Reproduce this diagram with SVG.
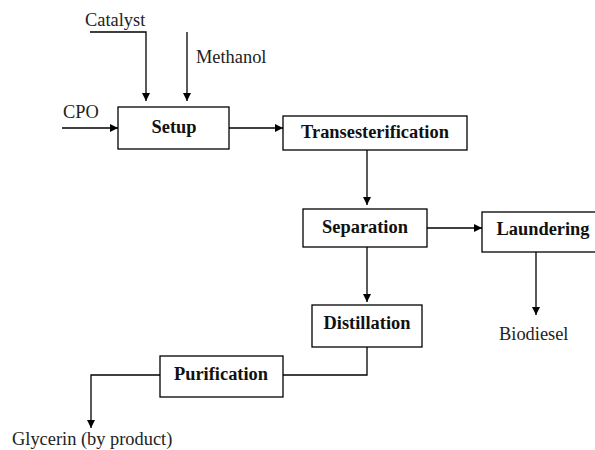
<svg xmlns="http://www.w3.org/2000/svg" width="595" height="450" viewBox="0 0 595 450">
<style>
.box{fill:#fff;stroke:#000;stroke-width:1.3}
.lbl{font-family:"Liberation Serif","Times New Roman",serif;font-size:18.4px;font-weight:bold;fill:#111;text-anchor:middle}
.txt{font-family:"Liberation Serif","Times New Roman",serif;font-size:18.4px;fill:#222}
.ln{fill:none;stroke:#000;stroke-width:1.3}
</style>
<defs>
<marker id="ah" viewBox="0 0 10 10" refX="10" refY="5" markerWidth="8" markerHeight="8" markerUnits="userSpaceOnUse" orient="auto">
<path d="M0,0 L10,5 L0,10 Z" fill="#000"/>
</marker>
</defs>
<rect width="595" height="450" fill="#fff"/>
<g id="connectors">
<polyline class="ln" points="90,32 146,32 146,101" marker-end="url(#ah)"/>
<line class="ln" x1="187" y1="32" x2="187" y2="101" marker-end="url(#ah)"/>
<line class="ln" x1="62" y1="128" x2="118" y2="128" marker-end="url(#ah)"/>
<line class="ln" x1="229" y1="128" x2="283" y2="128" marker-end="url(#ah)"/>
<line class="ln" x1="367" y1="150" x2="367" y2="205" marker-end="url(#ah)"/>
<line class="ln" x1="427" y1="228" x2="482" y2="228" marker-end="url(#ah)"/>
<line class="ln" x1="536" y1="247" x2="536" y2="315" marker-end="url(#ah)"/>
<line class="ln" x1="367" y1="247" x2="367" y2="302" marker-end="url(#ah)"/>
<polyline class="ln" points="367,347 367,375 283,375"/>
<polyline class="ln" points="160,375 91,375 91,428" marker-end="url(#ah)"/>
</g>
<g id="catalyst"><text class="txt" x="85" y="26">Catalyst</text></g>
<g id="methanol"><text class="txt" x="196" y="63">Methanol</text></g>
<g id="cpo"><text class="txt" x="63" y="118">CPO</text></g>
<g id="setup"><rect class="box" x="118" y="107" width="111" height="42"/><text class="lbl" x="174" y="133">Setup</text></g>
<g id="transesterification"><rect class="box" x="283" y="116" width="184" height="34"/><text class="lbl" x="375" y="138">Transesterification</text></g>
<g id="separation"><rect class="box" x="303" y="209" width="124" height="38"/><text class="lbl" x="365" y="233">Separation</text></g>
<g id="laundering"><rect class="box" x="482" y="212" width="130" height="40"/><text class="lbl" x="543" y="235">Laundering</text></g>
<g id="biodiesel"><text class="txt" x="499" y="340">Biodiesel</text></g>
<g id="distillation"><rect class="box" x="312" y="305" width="110" height="42"/><text class="lbl" x="367" y="329">Distillation</text></g>
<g id="purification"><rect class="box" x="160" y="356" width="123" height="41"/><text class="lbl" x="221" y="380">Purification</text></g>
<g id="glycerin"><text class="txt" x="12" y="445">Glycerin (by product)</text></g>
</svg>
